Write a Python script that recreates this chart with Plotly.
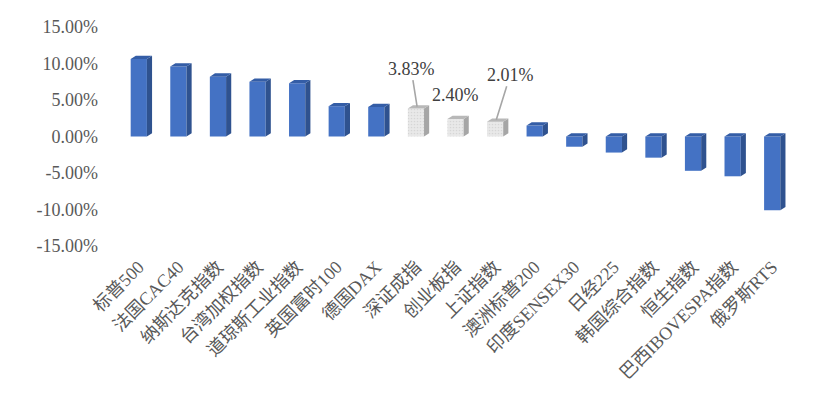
import plotly.graph_objects as go

categories = ["标普500", "法国CAC40", "纳斯达克指数", "台湾加权指数", "道琼斯工业指数",
              "英国富时100", "德国DAX", "深证成指", "创业板指", "上证指数",
              "澳洲标普200", "印度SENSEX30", "日经225", "韩国综合指数", "恒生指数",
              "巴西IBOVESPA指数", "俄罗斯RTS"]
values = [10.6, 9.6, 8.2, 7.5, 7.3, 4.15, 4.05, 3.83, 2.40, 2.01,
          1.5, -1.4, -2.2, -2.9, -4.7, -5.45, -10.1]
highlight = ["深证成指", "创业板指", "上证指数"]
labeled = {"深证成指": (-6, -38, True), "创业板指": (0, -22, False), "上证指数": (14, -45, True)}
ytick_vals = [-15, -10, -5, 0, 5, 10, 15]

FONT = "Times New Roman, Liberation Serif, DejaVu Serif, Noto Sans CJK SC, serif"
BLUE_FRONT, BLUE_SIDE, BLUE_TOP = "#4472C4", "#2F528F", "#345DA6"
GREY_FRONT, GREY_SIDE, GREY_TOP = "#E9E9E9", "#A6A6A6", "#B8B8B8"

W = 0.41      # bar width in category units
DX = 0.13     # depth offset in x (category units)
DY = 0.45     # depth offset in y (percent units)

idx = list(range(len(categories)))
is_hl = [c in highlight for c in categories]

fig = go.Figure()

def add_faces(sel, side_color, top_color):
    sx, sy, tx, ty = [], [], [], []
    for i, v in zip(idx, values):
        if not sel(i):
            continue
        xl, xr = i - W / 2, i + W / 2
        hi = max(v, 0)
        lo = min(v, 0)
        sx += [xr, xr, xr + DX, xr + DX, xr, None]
        sy += [lo, hi, hi + DY, lo + DY, lo, None]
        tx += [xl, xl + DX, xr + DX, xr, xl, None]
        ty += [hi, hi + DY, hi + DY, hi, hi, None]
    fig.add_trace(go.Scatter(x=sx, y=sy, fill="toself", fillcolor=side_color, mode="lines",
                             line=dict(width=0, color=side_color), hoverinfo="skip", showlegend=False))
    fig.add_trace(go.Scatter(x=tx, y=ty, fill="toself", fillcolor=top_color, mode="lines",
                             line=dict(width=0, color=top_color), hoverinfo="skip", showlegend=False))

add_faces(lambda i: not is_hl[i], BLUE_SIDE, BLUE_TOP)
add_faces(lambda i: is_hl[i], GREY_SIDE, GREY_TOP)

fig.add_trace(go.Bar(
    x=[i for i in idx if not is_hl[i]],
    y=[v for i, v in zip(idx, values) if not is_hl[i]],
    width=W, marker=dict(color=BLUE_FRONT, line=dict(width=0)),
    showlegend=False))
fig.add_trace(go.Bar(
    x=[i for i in idx if is_hl[i]],
    y=[v for i, v in zip(idx, values) if is_hl[i]],
    width=W, marker=dict(color=GREY_FRONT, line=dict(width=0),
                         pattern=dict(shape=".", fgcolor="#C4C4C4", bgcolor=GREY_FRONT,
                                      size=3, solidity=0.25)),
    showlegend=False))

for c, (ax, ay, arrow) in labeled.items():
    i = categories.index(c)
    v = values[i]
    txt = f"{v:.2f}%"
    if arrow:
        fig.add_annotation(x=i + 0.03, y=v + DY * 0.6, text=txt, showarrow=True, arrowhead=0,
                           arrowwidth=1.6, arrowcolor="#A6A6A6", ax=ax, ay=ay, standoff=0,
                           font=dict(family=FONT, size=18, color="#404040"))
    else:
        fig.add_annotation(x=i, y=v, text=txt, showarrow=False, yanchor="bottom", yshift=12,
                           font=dict(family=FONT, size=18, color="#404040"))

fig.update_layout(
    width=832, height=399,
    margin=dict(l=119, r=40, t=27, b=153),
    paper_bgcolor="white", plot_bgcolor="white",
    barmode="overlay",
    font=dict(family=FONT, size=18, color="#595959"),
    xaxis=dict(range=[-0.5, len(categories) - 0.5], tickmode="array", tickvals=idx,
               ticktext=categories, tickangle=-45, showgrid=False, zeroline=False,
               showline=False, ticks="", ticklabelstandoff=6, automargin=False,
               tickfont=dict(family=FONT, size=18, color="#595959")),
    yaxis=dict(range=[-15, 15], tickmode="array", tickvals=ytick_vals,
               ticktext=[f"{t:.2f}%" for t in ytick_vals], showgrid=False, zeroline=False,
               showline=False, ticks="", ticklabelstandoff=20, automargin=False,
               tickfont=dict(family=FONT, size=18, color="#595959")),
)

fig.write_html("out.html")
